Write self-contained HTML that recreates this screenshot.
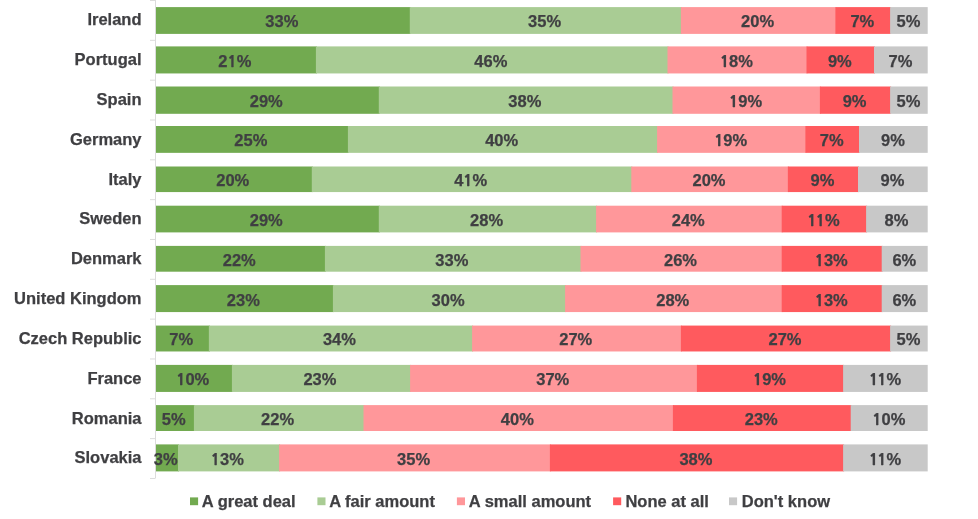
<!DOCTYPE html>
<html><head><meta charset="utf-8"><style>
html,body{margin:0;padding:0;background:#fff;}
body{width:978px;height:519px;position:relative;overflow:hidden;font-family:"Liberation Sans",Arial,Helvetica,sans-serif;font-weight:bold;color:#3f3f42;-webkit-text-stroke:0.25px #3f3f42;}
.v{position:absolute;font-size:16.5px;line-height:20px;height:20px;text-align:center;white-space:nowrap;}
.lab{position:absolute;right:836.5px;font-size:16.5px;line-height:20px;white-space:nowrap;text-align:right;}
.lg{position:absolute;font-size:16.5px;line-height:20px;white-space:nowrap;}
.one{font-family:"NanumGothic","Liberation Sans",sans-serif;font-weight:800;font-size:15.2px;line-height:1px;}
.k{letter-spacing:-0.9px;}
</style></head><body>

<svg width="978" height="519" viewBox="0 0 978 519" style="position:absolute;left:0;top:0">
<path d="M155.5 0V478.5" stroke="#dcdcdc" stroke-width="1" fill="none"/>
<path d="M150 0.50H155" stroke="#dcdcdc" stroke-width="1" fill="none"/>
<path d="M150 40.33H155" stroke="#dcdcdc" stroke-width="1" fill="none"/>
<path d="M150 80.16H155" stroke="#dcdcdc" stroke-width="1" fill="none"/>
<path d="M150 119.99H155" stroke="#dcdcdc" stroke-width="1" fill="none"/>
<path d="M150 159.82H155" stroke="#dcdcdc" stroke-width="1" fill="none"/>
<path d="M150 199.65H155" stroke="#dcdcdc" stroke-width="1" fill="none"/>
<path d="M150 239.48H155" stroke="#dcdcdc" stroke-width="1" fill="none"/>
<path d="M150 279.31H155" stroke="#dcdcdc" stroke-width="1" fill="none"/>
<path d="M150 319.14H155" stroke="#dcdcdc" stroke-width="1" fill="none"/>
<path d="M150 358.97H155" stroke="#dcdcdc" stroke-width="1" fill="none"/>
<path d="M150 398.80H155" stroke="#dcdcdc" stroke-width="1" fill="none"/>
<path d="M150 438.63H155" stroke="#dcdcdc" stroke-width="1" fill="none"/>
<path d="M150 478.46H155" stroke="#dcdcdc" stroke-width="1" fill="none"/>
<rect x="156.00" y="7.10" width="254.80" height="26.80" fill="#72aa50"/>
<rect x="409.80" y="7.10" width="272.10" height="26.80" fill="#a9cc94"/>
<rect x="680.90" y="7.10" width="155.50" height="26.80" fill="#ff979a"/>
<rect x="835.40" y="7.10" width="55.70" height="26.80" fill="#ff5a5e"/>
<rect x="890.10" y="7.10" width="37.60" height="26.80" fill="#c8c8c8"/>
<rect x="156.00" y="46.40" width="160.90" height="27.05" fill="#72aa50"/>
<rect x="315.90" y="46.40" width="352.60" height="27.05" fill="#a9cc94"/>
<rect x="667.50" y="46.40" width="140.00" height="27.05" fill="#ff979a"/>
<rect x="806.50" y="46.40" width="68.50" height="27.05" fill="#ff5a5e"/>
<rect x="874.00" y="46.40" width="53.70" height="27.05" fill="#c8c8c8"/>
<rect x="156.00" y="86.50" width="223.80" height="27.30" fill="#72aa50"/>
<rect x="378.80" y="86.50" width="294.70" height="27.30" fill="#a9cc94"/>
<rect x="672.50" y="86.50" width="148.40" height="27.30" fill="#ff979a"/>
<rect x="819.90" y="86.50" width="71.20" height="27.30" fill="#ff5a5e"/>
<rect x="890.10" y="86.50" width="37.60" height="27.30" fill="#c8c8c8"/>
<rect x="156.00" y="126.00" width="192.90" height="26.85" fill="#72aa50"/>
<rect x="347.90" y="126.00" width="310.20" height="26.85" fill="#a9cc94"/>
<rect x="657.10" y="126.00" width="149.30" height="26.85" fill="#ff979a"/>
<rect x="805.40" y="126.00" width="54.60" height="26.85" fill="#ff5a5e"/>
<rect x="859.00" y="126.00" width="68.70" height="26.85" fill="#c8c8c8"/>
<rect x="156.00" y="166.50" width="156.80" height="25.57" fill="#72aa50"/>
<rect x="311.80" y="166.50" width="320.50" height="25.57" fill="#a9cc94"/>
<rect x="631.30" y="166.50" width="157.55" height="25.57" fill="#ff979a"/>
<rect x="787.85" y="166.50" width="71.15" height="25.57" fill="#ff5a5e"/>
<rect x="858.00" y="166.50" width="69.70" height="25.57" fill="#c8c8c8"/>
<rect x="156.00" y="205.70" width="223.80" height="26.70" fill="#72aa50"/>
<rect x="378.80" y="205.70" width="218.30" height="26.70" fill="#a9cc94"/>
<rect x="596.10" y="205.70" width="186.60" height="26.70" fill="#ff979a"/>
<rect x="781.70" y="205.70" width="85.40" height="26.70" fill="#ff5a5e"/>
<rect x="866.10" y="205.70" width="61.60" height="26.70" fill="#c8c8c8"/>
<rect x="156.00" y="245.90" width="169.90" height="25.80" fill="#72aa50"/>
<rect x="324.90" y="245.90" width="256.60" height="25.80" fill="#a9cc94"/>
<rect x="580.50" y="245.90" width="202.20" height="25.80" fill="#ff979a"/>
<rect x="781.70" y="245.90" width="101.00" height="25.80" fill="#ff5a5e"/>
<rect x="881.70" y="245.90" width="46.00" height="25.80" fill="#c8c8c8"/>
<rect x="156.00" y="285.10" width="177.90" height="26.97" fill="#72aa50"/>
<rect x="332.90" y="285.10" width="233.20" height="26.97" fill="#a9cc94"/>
<rect x="565.10" y="285.10" width="217.60" height="26.97" fill="#ff979a"/>
<rect x="781.70" y="285.10" width="101.00" height="26.97" fill="#ff5a5e"/>
<rect x="881.70" y="285.10" width="46.00" height="26.97" fill="#c8c8c8"/>
<rect x="156.00" y="325.57" width="53.85" height="25.90" fill="#72aa50"/>
<rect x="208.85" y="325.57" width="264.25" height="25.90" fill="#a9cc94"/>
<rect x="472.10" y="325.57" width="209.80" height="25.90" fill="#ff979a"/>
<rect x="680.90" y="325.57" width="210.20" height="25.90" fill="#ff5a5e"/>
<rect x="890.10" y="325.57" width="37.60" height="25.90" fill="#c8c8c8"/>
<rect x="156.00" y="364.90" width="76.90" height="27.03" fill="#72aa50"/>
<rect x="231.90" y="364.90" width="179.20" height="27.03" fill="#a9cc94"/>
<rect x="410.10" y="364.90" width="287.80" height="27.03" fill="#ff979a"/>
<rect x="696.90" y="364.90" width="147.20" height="27.03" fill="#ff5a5e"/>
<rect x="843.10" y="364.90" width="84.60" height="27.03" fill="#c8c8c8"/>
<rect x="156.00" y="405.10" width="38.90" height="25.90" fill="#72aa50"/>
<rect x="193.90" y="405.10" width="170.60" height="25.90" fill="#a9cc94"/>
<rect x="363.50" y="405.10" width="310.40" height="25.90" fill="#ff979a"/>
<rect x="672.90" y="405.10" width="178.80" height="25.90" fill="#ff5a5e"/>
<rect x="850.70" y="405.10" width="77.00" height="25.90" fill="#c8c8c8"/>
<rect x="156.00" y="444.40" width="23.00" height="27.00" fill="#72aa50"/>
<rect x="178.00" y="444.40" width="102.10" height="27.00" fill="#a9cc94"/>
<rect x="279.10" y="444.40" width="271.80" height="27.00" fill="#ff979a"/>
<rect x="549.90" y="444.40" width="294.20" height="27.00" fill="#ff5a5e"/>
<rect x="843.10" y="444.40" width="84.60" height="27.00" fill="#c8c8c8"/>
<rect x="190" y="497.4" width="8.1" height="7.8" fill="#72aa50"/>
<rect x="317.4" y="497.4" width="8.1" height="7.8" fill="#a9cc94"/>
<rect x="456.9" y="497.4" width="8.1" height="7.8" fill="#ff979a"/>
<rect x="613.1" y="497.4" width="8.1" height="7.8" fill="#ff5a5e"/>
<rect x="729.0" y="497.4" width="8.1" height="7.8" fill="#c8c8c8"/>
</svg>
<div class="v" style="left:241.80px;width:80px;top:11.08px">33%</div>
<div class="v" style="left:504.57px;width:80px;top:11.08px">35%</div>
<div class="v" style="left:717.62px;width:80px;top:11.08px">20%</div>
<div class="v" style="left:822.35px;width:80px;top:11.08px">7%</div>
<div class="v" style="left:868.56px;width:80px;top:11.08px">5%</div>
<div class="lab" style="top:9.28px">Ireland</div>
<div class="v" style="left:194.79px;width:80px;top:50.86px">2<span class="one">1</span>%</div>
<div class="v" style="left:450.85px;width:80px;top:50.86px">46%</div>
<div class="v" style="left:696.45px;width:80px;top:50.86px"><span class="one">1</span>8%</div>
<div class="v" style="left:799.83px;width:80px;top:50.86px">9%</div>
<div class="v" style="left:860.50px;width:80px;top:50.86px">7%</div>
<div class="lab" style="top:49.11px">Portugal</div>
<div class="v" style="left:226.28px;width:80px;top:90.64px">29%</div>
<div class="v" style="left:484.84px;width:80px;top:90.64px">38%</div>
<div class="v" style="left:705.66px;width:80px;top:90.64px"><span class="one">1</span>9%</div>
<div class="v" style="left:814.59px;width:80px;top:90.64px">9%</div>
<div class="v" style="left:868.56px;width:80px;top:90.64px">5%</div>
<div class="lab" style="top:88.94px">Spain</div>
<div class="v" style="left:210.81px;width:80px;top:130.42px">25%</div>
<div class="v" style="left:461.66px;width:80px;top:130.42px">40%</div>
<div class="v" style="left:690.69px;width:80px;top:130.42px"><span class="one">1</span>9%</div>
<div class="v" style="left:791.77px;width:80px;top:130.42px">7%</div>
<div class="v" style="left:852.99px;width:80px;top:130.42px">9%</div>
<div class="lab" style="top:128.77px">Germany</div>
<div class="v" style="left:192.74px;width:80px;top:170.20px">20%</div>
<div class="v" style="left:430.68px;width:80px;top:170.20px">4<span class="one">1</span>%</div>
<div class="v" style="left:668.99px;width:80px;top:170.20px">20%</div>
<div class="v" style="left:782.48px;width:80px;top:170.20px">9%</div>
<div class="v" style="left:852.49px;width:80px;top:170.20px">9%</div>
<div class="lab" style="top:168.60px">Italy</div>
<div class="v" style="left:226.28px;width:80px;top:209.98px">29%</div>
<div class="v" style="left:446.59px;width:80px;top:209.98px">28%</div>
<div class="v" style="left:648.29px;width:80px;top:209.98px">24%</div>
<div class="v" style="left:783.46px;width:80px;top:209.98px"><span class="one k">1</span><span class="one">1</span>%</div>
<div class="v" style="left:856.54px;width:80px;top:209.98px">8%</div>
<div class="lab" style="top:208.43px">Sweden</div>
<div class="v" style="left:199.29px;width:80px;top:249.76px">22%</div>
<div class="v" style="left:411.80px;width:80px;top:249.76px">33%</div>
<div class="v" style="left:640.48px;width:80px;top:249.76px">26%</div>
<div class="v" style="left:791.26px;width:80px;top:249.76px"><span class="one">1</span>3%</div>
<div class="v" style="left:864.35px;width:80px;top:249.76px">6%</div>
<div class="lab" style="top:248.26px">Denmark</div>
<div class="v" style="left:203.30px;width:80px;top:289.54px">23%</div>
<div class="v" style="left:408.10px;width:80px;top:289.54px">30%</div>
<div class="v" style="left:632.77px;width:80px;top:289.54px">28%</div>
<div class="v" style="left:791.26px;width:80px;top:289.54px"><span class="one">1</span>3%</div>
<div class="v" style="left:864.35px;width:80px;top:289.54px">6%</div>
<div class="lab" style="top:288.09px">United Kingdom</div>
<div class="v" style="left:141.20px;width:80px;top:329.32px">7%</div>
<div class="v" style="left:299.44px;width:80px;top:329.32px">34%</div>
<div class="v" style="left:535.75px;width:80px;top:329.32px">27%</div>
<div class="v" style="left:745.01px;width:80px;top:329.32px">27%</div>
<div class="v" style="left:868.56px;width:80px;top:329.32px">5%</div>
<div class="lab" style="top:327.92px">Czech Republic</div>
<div class="v" style="left:152.74px;width:80px;top:369.10px"><span class="one">1</span>0%</div>
<div class="v" style="left:279.94px;width:80px;top:369.10px">23%</div>
<div class="v" style="left:512.73px;width:80px;top:369.10px">37%</div>
<div class="v" style="left:729.49px;width:80px;top:369.10px"><span class="one">1</span>9%</div>
<div class="v" style="left:845.03px;width:80px;top:369.10px"><span class="one k">1</span><span class="one">1</span>%</div>
<div class="lab" style="top:367.75px">France</div>
<div class="v" style="left:133.71px;width:80px;top:408.88px">5%</div>
<div class="v" style="left:237.59px;width:80px;top:408.88px">22%</div>
<div class="v" style="left:477.38px;width:80px;top:408.88px">40%</div>
<div class="v" style="left:721.28px;width:80px;top:408.88px">23%</div>
<div class="v" style="left:848.83px;width:80px;top:408.88px"><span class="one">1</span>0%</div>
<div class="lab" style="top:407.58px">Romania</div>
<div class="v" style="left:125.75px;width:80px;top:448.66px">3%</div>
<div class="v" style="left:187.38px;width:80px;top:448.66px"><span class="one">1</span>3%</div>
<div class="v" style="left:373.56px;width:80px;top:448.66px">35%</div>
<div class="v" style="left:655.90px;width:80px;top:448.66px">38%</div>
<div class="v" style="left:845.03px;width:80px;top:448.66px"><span class="one k">1</span><span class="one">1</span>%</div>
<div class="lab" style="top:447.41px">Slovakia</div>
<div class="lg" style="left:201.8px;top:491.08px">A great deal</div>
<div class="lg" style="left:329.2px;top:491.08px">A fair amount</div>
<div class="lg" style="left:468.8px;top:491.08px">A small amount</div>
<div class="lg" style="left:625.4px;top:491.08px">None at all</div>
<div class="lg" style="left:741.8px;top:491.08px">Don't know</div>
</body></html>
